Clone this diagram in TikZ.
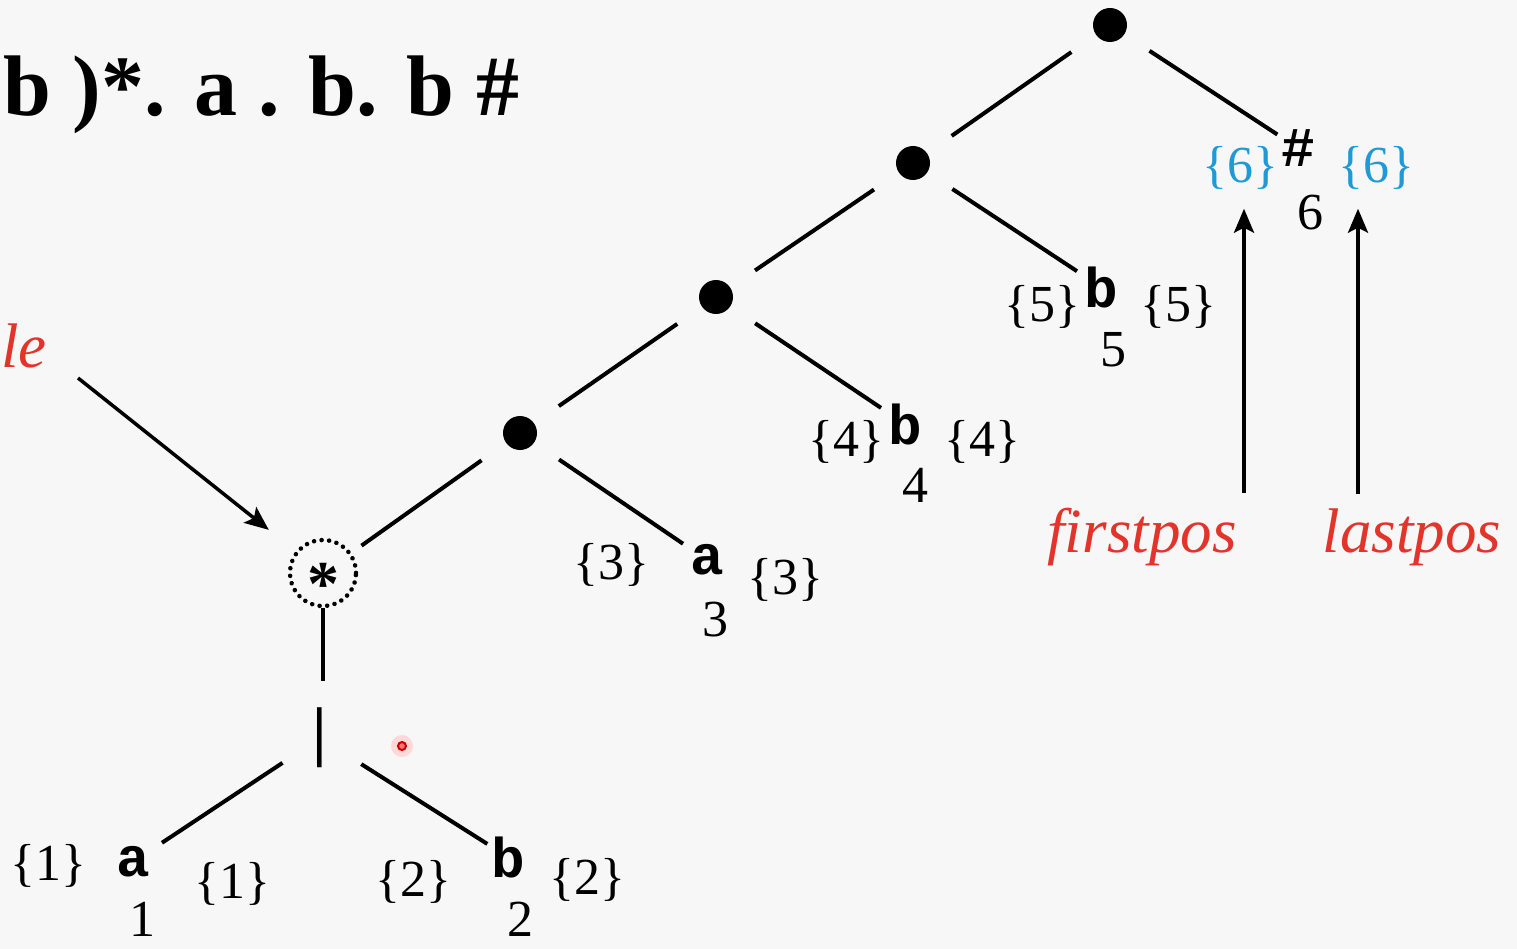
\documentclass[tikz,border=0pt]{standalone}
\usepackage{fontspec}
\setmainfont{Liberation Serif}
\newfontfamily\leafmono{Liberation Mono}
\usetikzlibrary{arrows.meta,positioning}
\definecolor{slideBg}{HTML}{F7F7F7}
\definecolor{posRed}{HTML}{E3342B}
\definecolor{posBlue}{HTML}{1F9AD6}

\tikzset{
  opdot/.style={circle, fill=black, inner sep=0pt, minimum size=34pt},
  opstar/.style={circle, draw, line width=4.5pt, line cap=round,
    dash pattern=on 0.1pt off 7.5pt, minimum size=66pt, inner sep=0pt},
  leaf/.style={font=\leafmono\bfseries\fontsize{56}{60}\selectfont, inner sep=2pt},
  posset/.style={font=\fontsize{52}{60}\selectfont, inner sep=0pt},
  posnum/.style={font=\fontsize{52}{60}\selectfont, inner sep=0pt},
  treeline/.style={line width=4pt},
  spine/.style={treeline, shorten <=30pt, shorten >=30pt},
  twig/.style={treeline, shorten <=30pt, shorten >=6pt},
  pointer/.style={line width=3.5pt, -{Stealth[length=24pt,width=20pt,inset=5pt]}},
  redlabel/.style={text=posRed, font=\itshape\fontsize{63}{70}\selectfont, inner sep=0pt},
}

\begin{document}
\begin{tikzpicture}[x=1pt, y=-1pt]
    \fill[slideBg] (0,0) rectangle (1517,949);
    \useasboundingbox (0,0) rectangle (1517,949);

    % expression and side labels
    \node[font=\bfseries\fontsize{86}{94}\selectfont, anchor=base west, inner sep=0pt]
        (regex) at (3,116) {b )*. a . b. b \#};
    \node[redlabel, anchor=base east] (nullable) at (47,367) {le};
    \node[redlabel, anchor=base] (firstpos) at (1142,552) {firstpos};
    \node[redlabel, anchor=base] (lastpos) at (1412,552) {lastpos};

    % operator nodes
    \foreach \n/\x/\y in {root/1110/25, cat2/913/163, cat3/716/297, cat4/520/433}
        \node[opdot] (\n) at (\x,\y) {};
    \node[opstar] (star) at (323,573) {};
    \node[font=\bfseries\fontsize{64}{68}\selectfont, anchor=base, inner sep=0pt]
        (starsym) at ([yshift=-32pt]star.center) {*};
    \node[font=\bfseries\fontsize{66}{70}\selectfont, inner sep=0pt] (alt) at (320,738) {|};

    % leaves and their positions
    \foreach \n/\s/\x/\y in {hash/\#/1298/148, b5/b/1101/287, b4/b/905/424,
                             a3/a/707/560, a1/a/133/862, b2/b/508/857}
        \node[leaf] (\n) at (\x,\y) {\s};
    \foreach \n/\x/\y in {6/1310/213, 5/1113/350, 4/915/485, 3/715/620, 1/142/919, 2/520/919}
        \node[posnum] (num\n) at (\x,\y) {\n};

    % firstpos / lastpos sets
    \foreach \n/\xl/\yl/\xr/\yr in {5/1042/307/1178/307, 4/846/442/982/442, 3/611/565/785/580,
                                   2/413/882/587/880, 1/48/866/232/884} {
        \node[posset] (fp\n) at (\xl,\yl) {\{\n\}};
        \node[posset] (lp\n) at (\xr,\yr) {\{\n\}};
    }
    \node[posset, text=posBlue] (fp6) at (1240,168) {\{6\}};
    \node[posset, text=posBlue] (lp6) at (1376,168) {\{6\}};

    % tree edges
    \draw[spine] (root) -- (cat2);
    \draw[spine] (cat2) -- (cat3);
    \draw[spine] (cat3) -- (cat4);
    \draw[spine, shorten >=12pt] (cat4) -- (star);
    \draw[twig, shorten >=2pt] (root) -- (hash);
    \draw[twig] (cat2) -- (b5);
    \draw[twig] (cat3) -- (b4);
    \draw[twig] (cat4) -- (a3);
    \draw[treeline, shorten >=27pt] (star.south) -- (star.south |- alt.north);
    \draw[treeline, shorten <=36pt, shorten >=12pt] (alt) -- (a1);
    \draw[treeline, shorten <=40pt, shorten >=2pt] (alt) -- (b2);

    % pointers
    \draw[pointer, shorten >=34pt] ([shift={(31,11)}]nullable.base east) -- (star);
    \draw[pointer, shorten <=14pt, shorten >=19pt] ([xshift=4pt]fp6.south |- firstpos.north) -- ([xshift=4pt]fp6.south);
    \draw[pointer, shorten <=14pt, shorten >=19pt] ([xshift=-18pt]lp6.south |- lastpos.north) -- ([xshift=-18pt]lp6.south);

    % laser dot
    \fill[red!15] (402,746) circle (11);
    \draw[red!80!black, line width=2pt, fill=red!55] (402,746) circle (4);
\end{tikzpicture}
\end{document}
